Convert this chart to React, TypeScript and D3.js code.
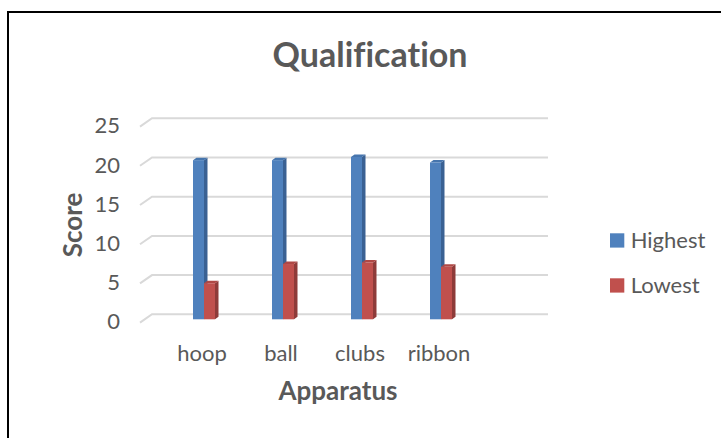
import React from "react";
import * as d3 from "d3";

// data
const categories = ["hoop", "ball", "clubs", "ribbon"];
const seriesNames = ["Highest", "Lowest"];
const highest = [20.3, 20.3, 20.7, 20.0];
const lowest = [4.6, 7.05, 7.25, 6.7];
const yTicks = [0, 5, 10, 15, 20, 25];

const colors = ["#4F81BD", "#C0504D"];
const sideColors = ["#3A6193", "#8E3B39"];
const topColors = ["#4675AD", "#AF4845"];
const textColor = "#595959";
const font = "Lato, 'Open Sans', sans-serif";

const W = 721;
const H = 438;

// back wall of the 3d plot
const backLeft = 152;
const backRight = 548;
const depthX = 12;
const depthY = 8.3;
// bars sit partway into the depth
const barShiftY = 5;
const barDepthX = 3.5;
const barDepthY = -2.5;

export default function App() {
  const yBack = d3.scaleLinear().domain([0, 25]).range([314.3, 118.3]);
  const yBar = (v: number) => yBack(v) + barShiftY;

  // an empty fifth slot, like the Excel axis
  const x = d3
    .scaleBand<string>()
    .domain([...categories, ""])
    .range([162.5, 557.5]);
  const xSeries = d3
    .scaleBand<string>()
    .domain(seriesNames)
    .range([0, 22]);

  const values = [highest, lowest];

  const bars: React.ReactNode[] = [];
  categories.forEach((c, i) => {
    const groupX = x(c)! + x.bandwidth() / 2 - 11 + 2;
    seriesNames.forEach((s, j) => {
      const v = values[j][i];
      const bx = groupX + xSeries(s)!;
      const w = xSeries.bandwidth();
      const top = yBar(v);
      const bottom = yBar(0);
      bars.push(
        <g key={c + s}>
          <polygon
            points={`${bx + w},${top} ${bx + w + barDepthX},${top + barDepthY} ${bx + w + barDepthX},${bottom + barDepthY} ${bx + w},${bottom}`}
            fill={sideColors[j]}
          />
          <polygon
            points={`${bx},${top} ${bx + barDepthX},${top + barDepthY} ${bx + w + barDepthX},${top + barDepthY} ${bx + w},${top}`}
            fill={topColors[j]}
          />
          <rect x={bx} y={top} width={w} height={bottom - top} fill={colors[j]} />
        </g>
      );
    });
  });

  return (
    <svg
      width={W}
      height={H}
      style={{ position: "absolute", left: 0, top: 0, background: "#fff", fontVariantLigatures: "none" }}
      fontFamily={font}
    >
      <rect x={8} y={12} width={900} height={600} fill="none" stroke="#000" strokeWidth={2} />

      <text x={370} y={66.7} textAnchor="middle" fontSize={34} fontWeight="bold" fill={textColor}>
        Qualification
      </text>

      {/* gridlines */}
      {yTicks.map((t) => (
        <g key={t}>
          <polyline
            points={`${backLeft - depthX},${yBack(t) + depthY} ${backLeft},${yBack(t)} ${backRight},${yBack(t)}`}
            fill="none"
            stroke="#D9D9D9"
            strokeWidth={2}
          />
          <text
            x={120}
            y={yBack(t) + 9.5}
            textAnchor="end"
            dominantBaseline="middle"
            fontSize={22}
            fill={textColor}
          >
            {t}
          </text>
        </g>
      ))}

      {bars}

      {/* category labels */}
      {categories.map((c) => (
        <text
          key={c}
          x={x(c)! + x.bandwidth() / 2}
          y={361}
          textAnchor="middle"
          fontSize={22}
          fill={textColor}
        >
          {c}
        </text>
      ))}

      <text x={338} y={400} textAnchor="middle" fontSize={26} fontWeight="bold" fill={textColor}>
        Apparatus
      </text>
      <text
        transform="translate(82,225) rotate(-90)"
        textAnchor="middle"
        fontSize={26}
        fontWeight="bold"
        fill={textColor}
      >
        Score
      </text>

      {/* legend */}
      {seriesNames.map((s, j) => (
        <g key={s} transform={`translate(610,${233.3 + j * 45})`}>
          <rect width={14.3} height={14.3} fill={colors[j]} />
          <text x={20.7} y={14.3} fontSize={22} fill={textColor}>
            {s}
          </text>
        </g>
      ))}
    </svg>
  );
}
